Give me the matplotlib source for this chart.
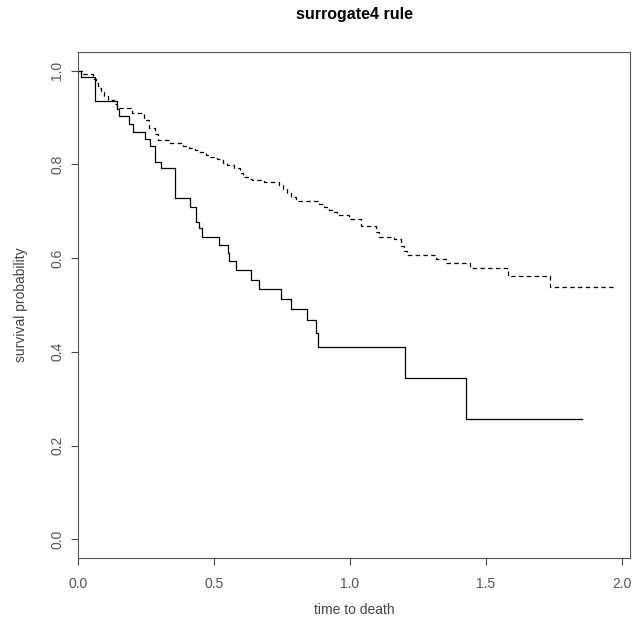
import matplotlib
matplotlib.use("Agg")
import matplotlib.pyplot as plt
import numpy as np

plt.rcParams['font.family'] = ['Liberation Sans', 'DejaVu Sans']
plt.rcParams['lines.scale_dashes'] = False

# Kaplan-Meier step curves: (time, survival after the step)
solid_t = [0.0, 0.010, 0.061, 0.143, 0.152, 0.186, 0.204, 0.248, 0.263, 0.282, 0.285,
           0.305, 0.355, 0.413, 0.435, 0.444, 0.456, 0.517, 0.551, 0.554, 0.581,
           0.638, 0.667, 0.748, 0.782, 0.841, 0.874, 0.881, 1.203, 1.426, 1.852]
solid_s = [1.0, 0.987, 0.935, 0.919, 0.904, 0.887, 0.870, 0.854, 0.840, 0.824, 0.806,
           0.792, 0.728, 0.710, 0.678, 0.664, 0.646, 0.628, 0.611, 0.593, 0.574,
           0.554, 0.534, 0.512, 0.491, 0.468, 0.440, 0.411, 0.344, 0.257, 0.257]

dash_t = [0.0, 0.020, 0.057, 0.065, 0.075, 0.085, 0.095, 0.112, 0.131, 0.142, 0.198,
          0.241, 0.260, 0.284, 0.296, 0.333, 0.385, 0.407, 0.429, 0.446, 0.471,
          0.487, 0.511, 0.532, 0.548, 0.573, 0.594, 0.606, 0.624, 0.640, 0.683,
          0.738, 0.753, 0.769, 0.782, 0.800, 0.886, 0.904, 0.923, 0.935, 0.953,
          0.996, 1.039, 1.095, 1.107, 1.162, 1.187, 1.199, 1.210, 1.316, 1.352,
          1.440, 1.583, 1.736, 1.972]
dash_s = [1.0, 0.993, 0.982, 0.973, 0.964, 0.955, 0.946, 0.937, 0.928, 0.921, 0.909,
          0.895, 0.877, 0.866, 0.852, 0.846, 0.839, 0.835, 0.830, 0.826, 0.820,
          0.816, 0.811, 0.803, 0.799, 0.793, 0.781, 0.774, 0.768, 0.766, 0.763,
          0.757, 0.747, 0.739, 0.730, 0.723, 0.716, 0.710, 0.703, 0.698, 0.692,
          0.683, 0.669, 0.656, 0.646, 0.640, 0.625, 0.616, 0.607, 0.598, 0.589,
          0.578, 0.562, 0.539, 0.539]

xticks = [0.0, 0.5, 1.0, 1.5, 2.0]
yticks = [0.0, 0.2, 0.4, 0.6, 0.8, 1.0]

fig = plt.figure(figsize=(6.36, 6.30), dpi=100)
ax = fig.add_axes([78 / 636, 72 / 630, 552 / 636, 506 / 630])

ax.step(solid_t, solid_s, where='post', color='black', lw=0.9)
ax.step(dash_t, dash_s, where='post', color='black', lw=0.9,
        linestyle=(0, (3.2, 2.4)))

ax.set_xlim(0, 2.03)
ax.set_ylim(-0.04, 1.04)
ax.set_xticks(xticks)
ax.set_xticklabels([f"{v:.1f}" for v in xticks])
ax.set_yticks(yticks)
ax.set_yticklabels([f"{v:.1f}" for v in yticks], rotation=90, va='center')

ax.tick_params(direction='out', length=5, width=0.8, labelsize=10,
               colors='#444444', labelcolor='#555555')
ax.tick_params(axis='x', pad=9)
ax.tick_params(axis='y', pad=5)
for sp in ax.spines.values():
    sp.set_linewidth(0.8)
    sp.set_color('#555555')

ax.set_xlabel('time to death', fontsize=10, color='#444444', labelpad=8)
ax.set_ylabel('survival probability', fontsize=10, color='#444444', labelpad=16)
ax.set_title('surrogate4 rule', fontsize=11.5, fontweight='bold', pad=24, x=0.5)

fig.savefig('out.png', dpi=100)
